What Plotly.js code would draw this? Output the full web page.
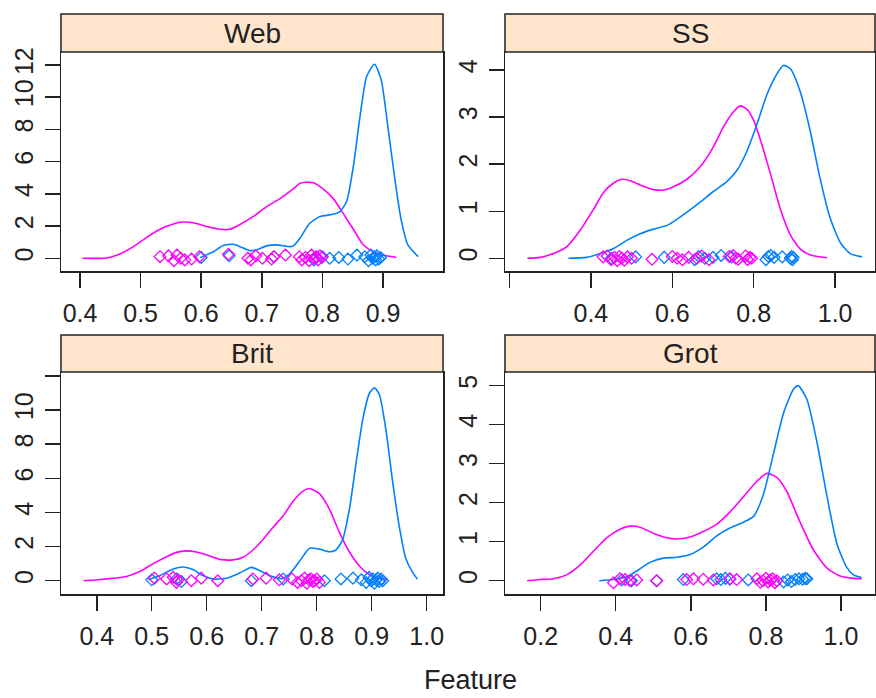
<!DOCTYPE html>
<html>
<head>
<meta charset="utf-8">
<script src="https://cdn.plot.ly/plotly-3.0.1.min.js"></script>
<style>html,body{margin:0;padding:0;background:#fff;}#chart{width:876px;height:698px;}</style>
</head>
<body>
<div id="chart"></div>
<script>
// ---------- data ----------
const panels = ["Web", "SS", "Brit", "Grot"];
const xTitle = "Feature";

// Web panel density curves
const webMagCurveX = [0.404,0.444,0.466,0.488,0.510,0.532,0.554,0.570,0.587,0.609,0.631,0.647,0.664,0.686,0.708,0.730,0.752,0.763,0.774,0.785,0.801,0.818,0.834,0.851,0.867,0.884,0.900,0.922];
const webMagCurveY = [0.00,0.02,0.27,0.72,1.30,1.80,2.13,2.25,2.20,1.97,1.80,1.80,2.10,2.60,3.20,3.70,4.30,4.65,4.72,4.68,4.30,3.70,2.80,1.80,0.85,0.40,0.20,0.05];
const webBluCurveX = [0.598,0.620,0.636,0.653,0.664,0.680,0.691,0.708,0.724,0.746,0.752,0.763,0.779,0.796,0.818,0.829,0.840,0.851,0.862,0.873,0.886,0.897,0.908,0.919,0.930,0.941,0.958];
const webBluCurveY = [0.04,0.40,0.79,0.87,0.72,0.48,0.52,0.77,0.83,0.72,0.77,1.24,2.17,2.59,2.73,2.90,3.52,5.69,8.79,11.28,12.04,11.07,8.17,5.07,2.38,0.83,0.10];
// SS panel
const ssMagCurveX = [0.244,0.276,0.308,0.341,0.374,0.407,0.431,0.456,0.476,0.497,0.521,0.554,0.579,0.603,0.636,0.669,0.701,0.726,0.751,0.767,0.783,0.800,0.816,0.841,0.865,0.890,0.914,0.939,0.980];
const ssMagCurveY = [0.00,0.02,0.10,0.25,0.60,1.05,1.40,1.60,1.68,1.65,1.56,1.46,1.45,1.52,1.68,1.95,2.37,2.80,3.12,3.24,3.17,2.93,2.53,1.80,1.06,0.50,0.20,0.07,0.01];
const ssBluCurveX = [0.345,0.390,0.423,0.456,0.488,0.521,0.554,0.587,0.603,0.636,0.669,0.701,0.734,0.759,0.783,0.808,0.832,0.857,0.873,0.890,0.914,0.939,0.963,0.988,1.013,1.037,1.066];
const ssBluCurveY = [0.00,0.02,0.10,0.21,0.38,0.52,0.62,0.70,0.78,0.98,1.20,1.42,1.63,1.87,2.27,2.85,3.47,3.92,4.10,4.03,3.55,2.70,1.70,0.85,0.33,0.10,0.03];
// Brit panel
const britMagCurveX = [0.376,0.397,0.430,0.454,0.479,0.503,0.527,0.545,0.563,0.581,0.606,0.624,0.648,0.666,0.684,0.702,0.720,0.739,0.757,0.775,0.787,0.805,0.823,0.841,0.860,0.878,0.896,0.914,0.929];
const britMagCurveY = [0.00,0.04,0.14,0.25,0.55,1.00,1.40,1.66,1.75,1.68,1.45,1.25,1.22,1.37,1.80,2.40,3.10,3.80,4.65,5.25,5.40,5.10,4.20,2.85,1.65,0.85,0.35,0.12,0.08];
const britBluCurveX = [0.494,0.515,0.539,0.557,0.575,0.593,0.612,0.636,0.660,0.681,0.696,0.714,0.736,0.751,0.769,0.787,0.805,0.823,0.835,0.847,0.860,0.872,0.884,0.896,0.905,0.914,0.926,0.938,0.950,0.962,0.974,0.983];
const britBluCurveY = [0.05,0.30,0.68,0.80,0.65,0.30,0.10,0.14,0.45,0.78,0.60,0.30,0.12,0.40,1.15,1.90,1.85,1.70,1.80,2.40,4.30,7.00,9.50,11.00,11.30,10.90,8.80,5.80,3.20,1.30,0.50,0.10];
// Grot panel
const grotMagCurveX = [0.164,0.198,0.234,0.269,0.305,0.340,0.376,0.411,0.438,0.465,0.500,0.536,0.562,0.598,0.633,0.669,0.704,0.740,0.776,0.802,0.829,0.855,0.891,0.926,0.962,0.997,1.033,1.055];
const grotMagCurveY = [0.00,0.03,0.05,0.15,0.40,0.75,1.10,1.32,1.40,1.37,1.22,1.10,1.07,1.12,1.26,1.45,1.76,2.15,2.55,2.75,2.65,2.30,1.50,0.80,0.33,0.12,0.06,0.05];
const grotBluCurveX = [0.356,0.394,0.429,0.456,0.491,0.527,0.562,0.598,0.633,0.669,0.704,0.740,0.767,0.793,0.820,0.847,0.873,0.886,0.909,0.935,0.962,0.989,1.015,1.033,1.055];
const grotBluCurveY = [0.00,0.03,0.10,0.25,0.47,0.58,0.60,0.67,0.86,1.15,1.35,1.50,1.65,2.20,3.25,4.30,4.90,5.00,4.65,3.60,2.20,0.95,0.35,0.15,0.08];

// rug points (values with small vertical jitter)
const webMagPtX = [0.532,0.546,0.555,0.560,0.566,0.573,0.584,0.597,0.645,0.677,0.682,0.690,0.701,0.716,0.720,0.739,0.762,0.766,0.772,0.778,0.782,0.786,0.790,0.793,0.796,0.799];
const webMagPtY = [0.10,0.15,-0.15,0.20,0.00,-0.10,-0.05,0.10,0.25,0.00,-0.10,0.15,0.00,-0.05,0.10,0.20,0.10,-0.10,0.05,-0.15,0.20,0.00,0.10,-0.10,0.15,0.05];
const webBluPtX = [0.600,0.646,0.720,0.786,0.790,0.800,0.812,0.827,0.842,0.857,0.870,0.876,0.880,0.883,0.886,0.888,0.890,0.893,0.896];
const webBluPtY = [0.05,0.15,0.10,-0.10,0.05,0.10,0.00,0.05,-0.05,0.20,0.10,-0.15,0.20,0.00,0.10,-0.10,0.15,-0.05,0.05];
const ssMagPtX = [0.430,0.440,0.450,0.458,0.465,0.470,0.476,0.482,0.490,0.500,0.550,0.600,0.612,0.625,0.640,0.660,0.672,0.690,0.740,0.750,0.756,0.762,0.780,0.785,0.790,0.795];
const ssMagPtY = [0.03,0.05,-0.03,0.02,-0.05,0.04,0.00,-0.04,0.03,0.00,-0.02,0.04,0.00,-0.03,0.02,0.00,0.05,-0.03,0.04,0.06,0.00,-0.02,0.05,-0.03,0.02,0.00];
const ssBluPtX = [0.450,0.510,0.580,0.655,0.665,0.680,0.700,0.720,0.745,0.830,0.836,0.842,0.850,0.870,0.890,0.893,0.895,0.897];
const ssBluPtY = [0.00,0.03,0.02,-0.03,0.04,0.00,0.02,0.06,0.03,-0.03,0.04,0.06,0.02,0.03,0.00,0.04,-0.03,0.02];
const britMagPtX = [0.505,0.527,0.539,0.545,0.548,0.572,0.590,0.620,0.684,0.708,0.732,0.755,0.765,0.772,0.778,0.782,0.786,0.790,0.793,0.796,0.800,0.805];
const britMagPtY = [0.15,0.10,0.20,-0.10,0.05,0.00,0.15,0.00,0.10,0.15,0.05,0.10,-0.10,0.00,0.15,-0.15,0.05,0.10,-0.05,0.00,0.10,-0.10];
const britBluPtX = [0.500,0.545,0.554,0.681,0.739,0.814,0.844,0.866,0.881,0.890,0.895,0.899,0.902,0.905,0.908,0.911,0.914,0.917,0.920];
const britBluPtY = [0.05,0.10,-0.05,0.00,0.10,0.00,0.10,0.15,0.05,-0.10,0.20,0.00,0.10,-0.15,0.05,0.15,-0.05,0.10,0.00];
const grotMagPtX = [0.394,0.411,0.425,0.438,0.456,0.509,0.589,0.607,0.633,0.660,0.704,0.722,0.776,0.785,0.792,0.800,0.806,0.812,0.818,0.824,0.829];
const grotMagPtY = [-0.05,0.05,0.03,0.00,0.02,0.00,0.03,0.05,0.04,0.02,0.05,0.03,0.05,-0.04,0.00,0.06,-0.03,0.02,0.05,-0.05,0.00];
const grotBluPtX = [0.416,0.442,0.509,0.580,0.669,0.680,0.692,0.704,0.753,0.847,0.858,0.868,0.878,0.888,0.898,0.905,0.909];
const grotBluPtY = [0.02,0.00,0.00,0.03,0.05,0.03,0.06,0.04,0.02,-0.03,0.02,-0.02,0.03,0.05,0.04,0.06,0.05];

const webYTicks = [0,2,4,6,8,10,12];
const ssYTicks = [0,1,2,3,4];
const britYTicks = [0,2,4,6,8,10,12];
const britYLabels = ["0","2","4","6","8","10",""];
const grotYTicks = [0,1,2,3,4,5];
const webXTicks = [0.4,0.5,0.6,0.7,0.8,0.9];
const ssXTicks = [0.2,0.4,0.6,0.8,1.0];
const ssXLabels = ["","0.4","0.6","0.8","1.0"];
const britXTicks = [0.4,0.5,0.6,0.7,0.8,0.9,1.0];
const grotXTicks = [0.2,0.4,0.6,0.8,1.0];

// ---------- drawing ----------
const BLUE = "#0080ff", MAG = "#ff00ff", INK = "#222222";
const W = 876, H = 698;
const FONT = "Liberation Sans, Arial, sans-serif";
function line(x, y, c, ax) {
  return {x, y, type: "scatter", mode: "lines", line: {color: c, width: 1.6, shape: "spline", smoothing: 0.6},
          xaxis: "x" + ax, yaxis: "y" + ax, hoverinfo: "skip"};
}
function pts(x, y, c, ax) {
  return {x, y, type: "scatter", mode: "markers", marker: {symbol: "diamond-open", size: 9, color: c, line: {width: 1.3, color: c}},
          xaxis: "x" + ax, yaxis: "y" + ax, hoverinfo: "skip"};
}
const ax = ["", "2", "3", "4"];
const data = [
  line(webMagCurveX, webMagCurveY, MAG, ax[0]), line(webBluCurveX, webBluCurveY, BLUE, ax[0]),
  pts(webBluPtX, webBluPtY, BLUE, ax[0]), pts(webMagPtX, webMagPtY, MAG, ax[0]),
  line(ssMagCurveX, ssMagCurveY, MAG, ax[1]), line(ssBluCurveX, ssBluCurveY, BLUE, ax[1]),
  pts(ssBluPtX, ssBluPtY, BLUE, ax[1]), pts(ssMagPtX, ssMagPtY, MAG, ax[1]),
  line(britMagCurveX, britMagCurveY, MAG, ax[2]), line(britBluCurveX, britBluCurveY, BLUE, ax[2]),
  pts(britBluPtX, britBluPtY, BLUE, ax[2]), pts(britMagPtX, britMagPtY, MAG, ax[2]),
  line(grotMagCurveX, grotMagCurveY, MAG, ax[3]), line(grotBluCurveX, grotBluCurveY, BLUE, ax[3]),
  pts(grotBluPtX, grotBluPtY, BLUE, ax[3]), pts(grotMagPtX, grotMagPtY, MAG, ax[3])
];

// pixel geometry of panels
const colX = [[61, 443], [505, 875]];
const rowY = [[52, 271], [372, 594]];   // plot area top/bottom
const stripY = [[14, 52], [335, 372]];
const px = v => v / W, py = v => 1 - v / H;

function xa(col, row, range, tv, tt, anchor) {
  return {domain: [px(colX[col][0]), px(colX[col][1])], range, anchor,
    tickmode: "array", tickvals: tv, ticktext: tt || tv.map(v => v.toFixed(1)),
    ticks: "outside", ticklen: 15, tickwidth: 1.5, tickcolor: INK,
    showline: true, linecolor: INK, linewidth: 1.5, mirror: true,
    showgrid: false, zeroline: false, ticklabelstandoff: 4,
    tickfont: {size: 25, color: INK, family: FONT}, fixedrange: true};
}
function ya(col, row, range, tv, tt, anchor) {
  return {domain: [py(rowY[row][1]), py(rowY[row][0])], range, anchor,
    tickmode: "array", tickvals: tv, ticktext: tt || tv.map(String), tickangle: -90,
    ticks: "outside", ticklen: 15, tickwidth: 1.5, tickcolor: INK,
    showline: true, linecolor: INK, linewidth: 1.5, mirror: true,
    showgrid: false, zeroline: false, ticklabelstandoff: 2,
    tickfont: {size: 25, color: INK, family: FONT}, fixedrange: true};
}

const shapes = [], annotations = [];
const pos = [[0, 0], [1, 0], [0, 1], [1, 1]];
panels.forEach((name, i) => {
  const [c, r] = pos[i];
  shapes.push({type: "rect", xref: "paper", yref: "paper",
    x0: px(colX[c][0]), x1: px(colX[c][1]), y0: py(stripY[r][1]), y1: py(stripY[r][0]),
    fillcolor: "#ffe5cc", line: {color: INK, width: 1.5}, layer: "above"});
  annotations.push({xref: "paper", yref: "paper", x: px((colX[c][0] + colX[c][1]) / 2),
    y: py((stripY[r][0] + stripY[r][1]) / 2), text: name, showarrow: false,
    xanchor: "center", yanchor: "middle",
    font: {size: 28, color: INK, family: FONT}});
});
annotations.push({xref: "paper", yref: "paper", x: px(470), y: py(680), text: xTitle, showarrow: false,
  xanchor: "center", yanchor: "middle", font: {size: 27, color: INK, family: FONT}});

const layout = {
  width: W, height: H, margin: {l: 0, r: 0, t: 0, b: 0},
  paper_bgcolor: "#ffffff", plot_bgcolor: "#ffffff", showlegend: false,
  font: {family: FONT, color: INK},
  xaxis: xa(0, 0, [0.3686, 0.999], webXTicks, null, "y"),
  yaxis: ya(0, 0, [-0.79, 12.8], webYTicks, null, "x"),
  xaxis2: xa(1, 0, [0.189, 1.098], ssXTicks, ssXLabels, "y2"),
  yaxis2: ya(1, 0, [-0.27, 4.385], ssYTicks, null, "x2"),
  xaxis3: xa(0, 1, [0.335, 1.0296], britXTicks, null, "y3"),
  yaxis3: ya(0, 1, [-0.78, 12.23], britYTicks, britYLabels, "x3"),
  xaxis4: xa(1, 1, [0.105, 1.0906], grotXTicks, null, "y4"),
  yaxis4: ya(1, 1, [-0.34, 5.35], grotYTicks, null, "x4"),
  shapes, annotations
};
Plotly.newPlot("chart", data, layout, {staticPlot: true, displayModeBar: false});
</script>
</body>
</html>
